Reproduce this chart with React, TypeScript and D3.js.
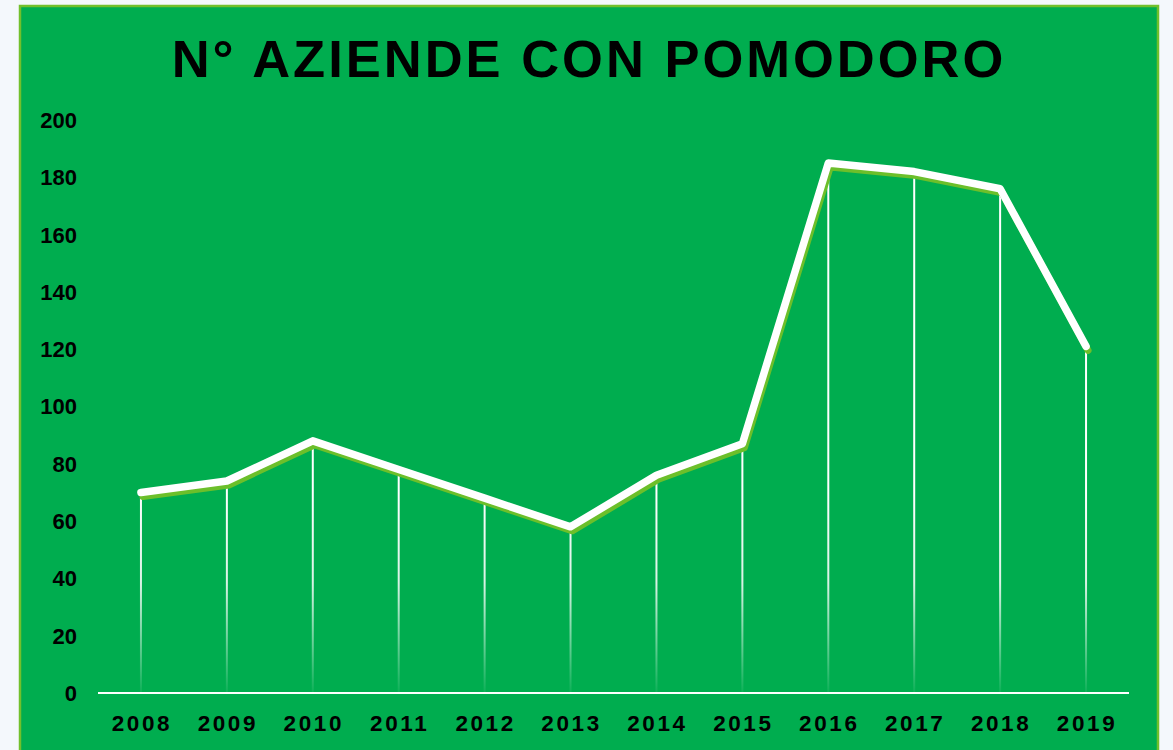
import React, { useEffect, useRef } from "react";
import * as d3 from "d3";

const years = ["2008", "2009", "2010", "2011", "2012", "2013", "2014", "2015", "2016", "2017", "2018", "2019"];
const aziende = [70, 74, 88, 78, 68, 58, 76, 87, 185, 182, 176, 121];
const yTicks = [0, 20, 40, 60, 80, 100, 120, 140, 160, 180, 200];

const W = 1173;
const H = 750;

const App: React.FC = () => {
  const svgRef = useRef<SVGSVGElement | null>(null);

  useEffect(() => {
    if (!svgRef.current) return;
    const svg = d3.select(svgRef.current);
    svg.selectAll("*").remove();

    // page + card background
    svg.append("rect").attr("width", W).attr("height", H).attr("fill", "#f4f8fc");
    svg
      .append("rect")
      .attr("x", 20)
      .attr("y", 6)
      .attr("width", 1138)
      .attr("height", 760)
      .attr("fill", "#00ad4f")
      .attr("stroke", "#72c02c")
      .attr("stroke-width", 2.5);

    const x = d3.scaleBand<string>().domain(years).range([98, 1129]);
    const y = d3.scaleLinear().domain([0, 200]).range([693, 120]);
    const cx = (d: string) => (x(d) ?? 0) + x.bandwidth() / 2;

    // title
    svg
      .append("text")
      .attr("x", 589)
      .attr("y", 77)
      .attr("text-anchor", "middle")
      .attr("font-family", "Liberation Sans, Arial, sans-serif")
      .attr("font-weight", "bold")
      .attr("font-size", 52.5)
      .attr("letter-spacing", 3)
      .attr("fill", "#000")
      .text("N° AZIENDE CON POMODORO");

    // gradient for drop lines
    const defs = svg.append("defs");
    const grad = defs
      .append("linearGradient")
      .attr("id", "dropGrad")
      .attr("gradientUnits", "userSpaceOnUse")
      .attr("x1", 0)
      .attr("y1", y(70))
      .attr("x2", 0)
      .attr("y2", y(0));
    grad.append("stop").attr("offset", "0%").attr("stop-color", "#fff").attr("stop-opacity", 1);
    grad.append("stop").attr("offset", "45%").attr("stop-color", "#fff").attr("stop-opacity", 0.85);
    grad.append("stop").attr("offset", "100%").attr("stop-color", "#fff").attr("stop-opacity", 0.05);

    // drop lines
    svg
      .append("g")
      .selectAll("line")
      .data(years)
      .join("line")
      .attr("x1", (d) => cx(d))
      .attr("x2", (d) => cx(d) + 0.01)
      .attr("y1", (_, i) => y(aziende[i]))
      .attr("y2", y(0))
      .attr("stroke", "url(#dropGrad)")
      .attr("stroke-width", 2);

    // y axis labels
    svg
      .append("g")
      .selectAll("text")
      .data(yTicks)
      .join("text")
      .attr("x", 77)
      .attr("y", (d) => y(d))
      .attr("dy", "0.36em")
      .attr("text-anchor", "end")
      .attr("font-family", "Liberation Sans, Arial, sans-serif")
      .attr("font-weight", "bold")
      .attr("font-size", 22)
      .attr("fill", "#000")
      .text((d) => d);

    // x axis
    svg
      .append("line")
      .attr("x1", 98)
      .attr("x2", 1129)
      .attr("y1", y(0))
      .attr("y2", y(0))
      .attr("stroke", "#fff")
      .attr("stroke-width", 2);

    svg
      .append("g")
      .selectAll("text")
      .data(years)
      .join("text")
      .attr("x", (d) => cx(d) + 1)
      .attr("y", 731)
      .attr("text-anchor", "middle")
      .attr("font-family", "Liberation Sans, Arial, sans-serif")
      .attr("font-weight", "bold")
      .attr("font-size", 22.5)
      .attr("letter-spacing", 2.6)
      .attr("fill", "#000")
      .text((d) => d);

    const line = d3
      .line<number>()
      .x((_, i) => cx(years[i]))
      .y((d) => y(d));

    // shadow
    svg
      .append("path")
      .datum(aziende)
      .attr("d", line)
      .attr("transform", "translate(2,4)")
      .attr("fill", "none")
      .attr("stroke", "#6cbf2a")
      .attr("stroke-width", 7)
      .attr("stroke-linejoin", "round")
      .attr("stroke-linecap", "round");

    // main line
    svg
      .append("path")
      .datum(aziende)
      .attr("d", line)
      .attr("fill", "none")
      .attr("stroke", "#fff")
      .attr("stroke-width", 7.5)
      .attr("stroke-linejoin", "round")
      .attr("stroke-linecap", "round");
  }, []);

  return (
    <svg
      ref={svgRef}
      width={W}
      height={H}
      style={{ position: "absolute", left: 0, top: 0, display: "block" }}
    />
  );
};

export default App;
